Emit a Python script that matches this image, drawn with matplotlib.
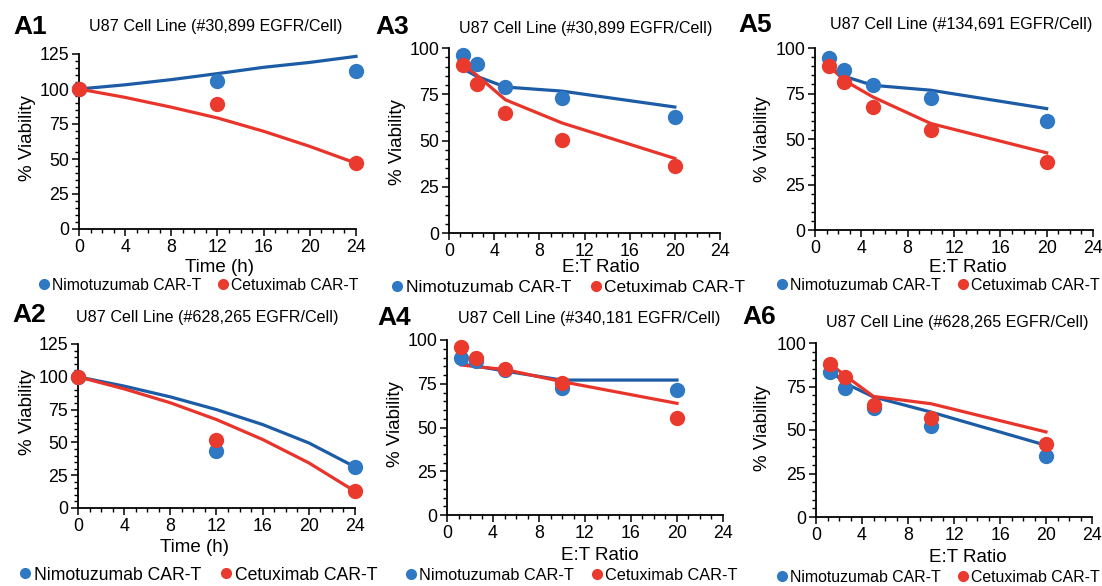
import numpy as np
import matplotlib
matplotlib.use("Agg")
import matplotlib.pyplot as plt
from matplotlib.lines import Line2D
from matplotlib.ticker import MultipleLocator

plt.rcParams['font.family'] = ['Liberation Sans', 'DejaVu Sans']

# ---- data ----
time_h = [0, 12, 24]
time_fit_x = [0, 4, 8, 12, 16, 20, 24]
et_ratio = [1.25, 2.5, 5, 10, 20]

# A1: #30,899 EGFR/Cell, time course
a1_nimo = [100, 105.5, 112.6]
a1_cetu = [100, 89.5, 47.1]
a1_nimo_fit = [100, 103, 106.7, 111, 115.5, 119, 123.3]
a1_cetu_fit = [100, 94, 87, 79.3, 69.8, 59, 47]

# A2: #628,265 EGFR/Cell, time course
a2_nimo = [100, 43.8, 31.3]
a2_cetu = [100, 52.2, 12.7]
a2_nimo_fit = [100, 92.9, 84.7, 75, 63.6, 49.6, 31.3]
a2_cetu_fit = [100, 90.8, 80.2, 67.4, 52.2, 34.4, 12.7]

# A3: #30,899 EGFR/Cell, E:T ratio
a3_nimo = [96.2, 91.4, 78.9, 72.9, 62.7]
a3_cetu = [91.0, 80.3, 64.9, 50.2, 36.4]
a3_nimo_fit = [88.7, 84.6, 78.9, 76.7, 68.1]
a3_cetu_fit = [91.4, 85.1, 72.0, 59.5, 40.3]

# A4: #340,181 EGFR/Cell, E:T ratio
a4_nimo = [89.9, 88.0, 83.0, 72.8, 71.4]
a4_cetu = [96.2, 89.5, 83.2, 75.6, 55.6]
a4_nimo_fit = [86.3, 85.1, 82.3, 77.1, 77.1]
a4_cetu_fit = [85.7, 84.8, 83.2, 76.2, 63.8]

# A5: #134,691 EGFR/Cell, E:T ratio
a5_nimo = [94.7, 87.8, 79.5, 72.6, 60.0]
a5_cetu = [90.0, 81.4, 67.6, 54.8, 37.5]
a5_nimo_fit = [89.5, 84.5, 79.5, 76.8, 66.7]
a5_cetu_fit = [90.0, 82.3, 73.1, 58.5, 42.4]

# A6: #628,265 EGFR/Cell, E:T ratio
a6_nimo = [83.3, 74.3, 62.8, 52.1, 34.9]
a6_cetu = [88.1, 80.5, 64.2, 56.9, 42.1]
a6_nimo_fit = [84.3, 77.0, 69.0, 60.3, 41.2]
a6_cetu_fit = [88.0, 81.4, 69.3, 65.1, 48.9]

labels = ["Nimotuzumab CAR-T", "Cetuximab CAR-T"]

BLUE_PT = "#2F78C4"
BLUE_LN = "#1C5CA6"
RED_PT = "#EA3A2E"
RED_LN = "#E8342A"

W, H = 1102, 586
fig = plt.figure(figsize=(W / 100, H / 100), dpi=100)


def fx(px):
    return px / W


def fy(py):
    return 1 - py / H


def panel(box, tag, tag_xy, title, title_xy, xlab, xlab_xy, ylab_xy, leg_xy,
          leg_fs, ymax, x_pts, nimo, cetu, x_fit, nimo_fit, cetu_fit):
    l, t, r, b = box
    ax = fig.add_axes([fx(l), fy(b), fx(r - l), (b - t) / H])
    ax.plot(x_fit, nimo_fit, color=BLUE_LN, lw=2.3, zorder=2)
    ax.plot(x_fit, cetu_fit, color=RED_LN, lw=2.3, zorder=2)
    ax.plot(x_pts, nimo, 'o', color=BLUE_PT, ms=10, zorder=3)
    ax.plot(x_pts, cetu, 'o', color=RED_PT, ms=10, zorder=4)
    ax.set_xlim(0, 24)
    ax.set_ylim(0, ymax)
    ax.xaxis.set_major_locator(MultipleLocator(4))
    ax.xaxis.set_minor_locator(MultipleLocator(1))
    ax.yaxis.set_major_locator(MultipleLocator(25))
    ax.yaxis.set_minor_locator(MultipleLocator(5))
    for s in ['top', 'right']:
        ax.spines[s].set_visible(False)
    for s in ['left', 'bottom']:
        ax.spines[s].set_linewidth(1.3)
    ax.tick_params(which='major', length=5, width=1.1, labelsize=12.8, pad=2)
    ax.tick_params(which='minor', length=3, width=1.0)
    for ln in ax.lines:
        ln.set_clip_on(False)

    fig.text(fx(tag_xy[0]), fy(tag_xy[1]), tag, fontsize=19, fontweight='bold',
             ha='left', va='center')
    fig.text(fx(title_xy[0]), fy(title_xy[1]), title, fontsize=11.6,
             ha='center', va='center')
    fig.text(fx(xlab_xy[0]), fy(xlab_xy[1]), xlab, fontsize=13.5,
             ha='center', va='center')
    fig.text(fx(ylab_xy[0]), fy(ylab_xy[1]), "% Viability", fontsize=13.5,
             ha='center', va='center', rotation=90)

    handles = [Line2D([], [], marker='o', ls='', color=BLUE_PT, ms=7),
               Line2D([], [], marker='o', ls='', color=RED_PT, ms=7)]
    fig.legend(handles, labels, loc='center', ncol=2, frameon=False,
               bbox_to_anchor=(fx(leg_xy[0]), fy(leg_xy[1])),
               fontsize=leg_fs, handletextpad=0.0, columnspacing=0.9,
               handlelength=1.0, borderaxespad=0, borderpad=0)
    return ax


panel((79, 54, 356, 229), "A1", (13, 27), "U87 Cell Line (#30,899 EGFR/Cell)",
      (216, 27), "Time (h)", (220, 267), (27, 138), (197, 285), 11.3, 125,
      time_h, a1_nimo, a1_cetu, time_fit_x, a1_nimo_fit, a1_cetu_fit)

panel((78, 344, 355, 508), "A2", (12, 315), "U87 Cell Line (#628,265 EGFR/Cell)",
      (207, 317), "Time (h)", (194, 547), (27, 412), (197, 575), 12.7, 125,
      time_h, a2_nimo, a2_cetu, time_fit_x, a2_nimo_fit, a2_cetu_fit)

panel((449, 48, 720, 233), "A3", (375, 27), "U87 Cell Line (#30,899 EGFR/Cell)",
      (586, 28), "E:T Ratio", (601, 268), (397, 142), (567, 287), 12.5, 100,
      et_ratio, a3_nimo, a3_cetu, et_ratio, a3_nimo_fit, a3_cetu_fit)

panel((447, 340, 723, 515), "A4", (377, 318), "U87 Cell Line (#340,181 EGFR/Cell)",
      (589, 318), "E:T Ratio", (600, 555), (395, 424), (570, 575), 11.7, 100,
      et_ratio, a4_nimo, a4_cetu, et_ratio, a4_nimo_fit, a4_cetu_fit)

panel((815, 48, 1093, 230), "A5", (738, 25), "U87 Cell Line (#134,691 EGFR/Cell)",
      (961, 25), "E:T Ratio", (968, 267), (762, 139), (937, 285), 11.4, 100,
      et_ratio, a5_nimo, a5_cetu, et_ratio, a5_nimo_fit, a5_cetu_fit)

panel((816, 343, 1092, 517), "A6", (742, 317), "U87 Cell Line (#628,265 EGFR/Cell)",
      (957, 322), "E:T Ratio", (968, 557), (762, 428), (937, 577), 11.4, 100,
      et_ratio, a6_nimo, a6_cetu, et_ratio, a6_nimo_fit, a6_cetu_fit)

fig.savefig("out.png", dpi=100)
